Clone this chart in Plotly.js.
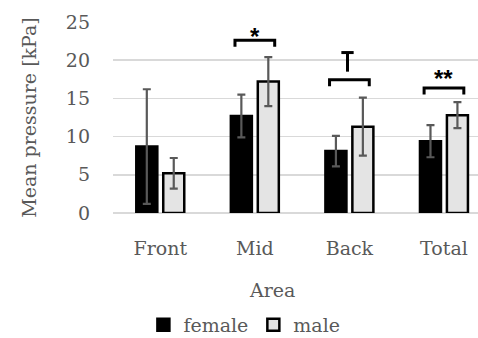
<!DOCTYPE html>
<html>
<head>
<meta charset="utf-8">
<script src="https://cdn.plot.ly/plotly-3.0.1.min.js"></script>
<style>html,body{margin:0;padding:0;background:#fff;}#chart{width:478px;height:338px;}</style>
</head>
<body>
<div id="chart"></div>
<script>
const categories = ["Front", "Mid", "Back", "Total"];
const femaleMean = [8.7, 12.7, 8.1, 9.4];
const femaleErr = [7.5, 2.8, 2.0, 2.1];
const maleMean = [5.2, 17.2, 11.3, 12.8];
const maleErr = [2.0, 3.2, 3.8, 1.7];
const seriesNames = ["female", "male"];
const yTicks = [0, 5, 10, 15, 20, 25];
// significance brackets: category index, bracket top, marker label, marker height
const sigCategory = [1, 2, 3];
const sigLevel = [22.6, 17.45, 16.35];
const sigLabel = ["*", "T", "**"];
const sigMarkY = [23.1, 21.0, 17.6];

const FONT = "DejaVu Serif";
const GREY = "#595959";

const traces = [
  {
    type: "bar", name: seriesNames[0], x: categories, y: femaleMean,
    marker: {color: "#000000", line: {color: "#000000", width: 2.5}},
    error_y: {type: "data", array: femaleErr, visible: true, color: GREY, thickness: 2.2, width: 4}
  },
  {
    type: "bar", name: seriesNames[1], x: categories, y: maleMean,
    marker: {color: "#e4e4e4", line: {color: "#000000", width: 2.5}},
    error_y: {type: "data", array: maleErr, visible: true, color: GREY, thickness: 2.2, width: 4}
  }
];

const shapes = [];
const annotations = [];
sigCategory.forEach((c, i) => {
  const top = sigLevel[i];
  const drop = 0.85;
  const x0 = c - 0.21, x1 = c + 0.21;
  shapes.push({type: "path", xref: "x", yref: "y",
    path: `M ${x0},${top - drop} L ${x0},${top} L ${x1},${top} L ${x1},${top - drop}`,
    line: {color: "#000", width: 3}});
  if (sigLabel[i] === "T") {
    const ty = sigMarkY[i];
    shapes.push({type: "line", xref: "x", yref: "y", x0: c - 0.085, x1: c + 0.045, y0: ty, y1: ty, line: {color: "#000", width: 3}});
    shapes.push({type: "line", xref: "x", yref: "y", x0: c - 0.02, x1: c - 0.02, y0: ty, y1: top + 1.05, line: {color: "#000", width: 3}});
  } else {
    annotations.push({xref: "x", yref: "y", x: c, y: sigMarkY[i], text: "<b>" + sigLabel[i] + "</b>",
      showarrow: false, yanchor: "middle", font: {family: "Liberation Sans", size: 24, color: "#000"}});
  }
});
annotations.push({xref: "paper", yref: "paper", x: 0.436, y: -0.403, text: "Area", showarrow: false,
  xanchor: "center", yanchor: "middle", font: {family: FONT, size: 19, color: GREY}});

const layout = {
  width: 478, height: 338,
  margin: {l: 113, r: 0, t: 22, b: 125, autoexpand: false},
  paper_bgcolor: "#fff", plot_bgcolor: "#fff",
  barmode: "group", bargap: 0.43, bargroupgap: 0.22,
  font: {family: FONT, size: 19, color: GREY},
  showlegend: true,
  legend: {orientation: "h", x: 0.36, xanchor: "center", y: -0.586, yanchor: "middle",
    font: {family: FONT, size: 19, color: GREY}, itemwidth: 30, traceorder: "normal"},
  xaxis: {type: "category", range: [-0.5, 3.36], showgrid: false, showline: false, zeroline: false,
    automargin: false, ticks: "", ticklabelstandoff: 22, tickfont: {family: FONT, size: 19, color: GREY}},
  yaxis: {range: [0, 25], tickvals: yTicks, showgrid: true, gridcolor: "#d9d9d9", gridwidth: 1.5,
    automargin: false, zeroline: true, zerolinecolor: "#d9d9d9", zerolinewidth: 1.5, showline: false, ticks: "",
    ticklabelstandoff: 22, tickfont: {family: FONT, size: 19, color: GREY},
    title: {text: "Mean pressure [kPa]", standoff: 24, font: {family: FONT, size: 19, color: GREY}}},
  shapes: shapes,
  annotations: annotations
};

Plotly.newPlot("chart", traces, layout, {displayModeBar: false, staticPlot: true});
</script>
</body>
</html>
